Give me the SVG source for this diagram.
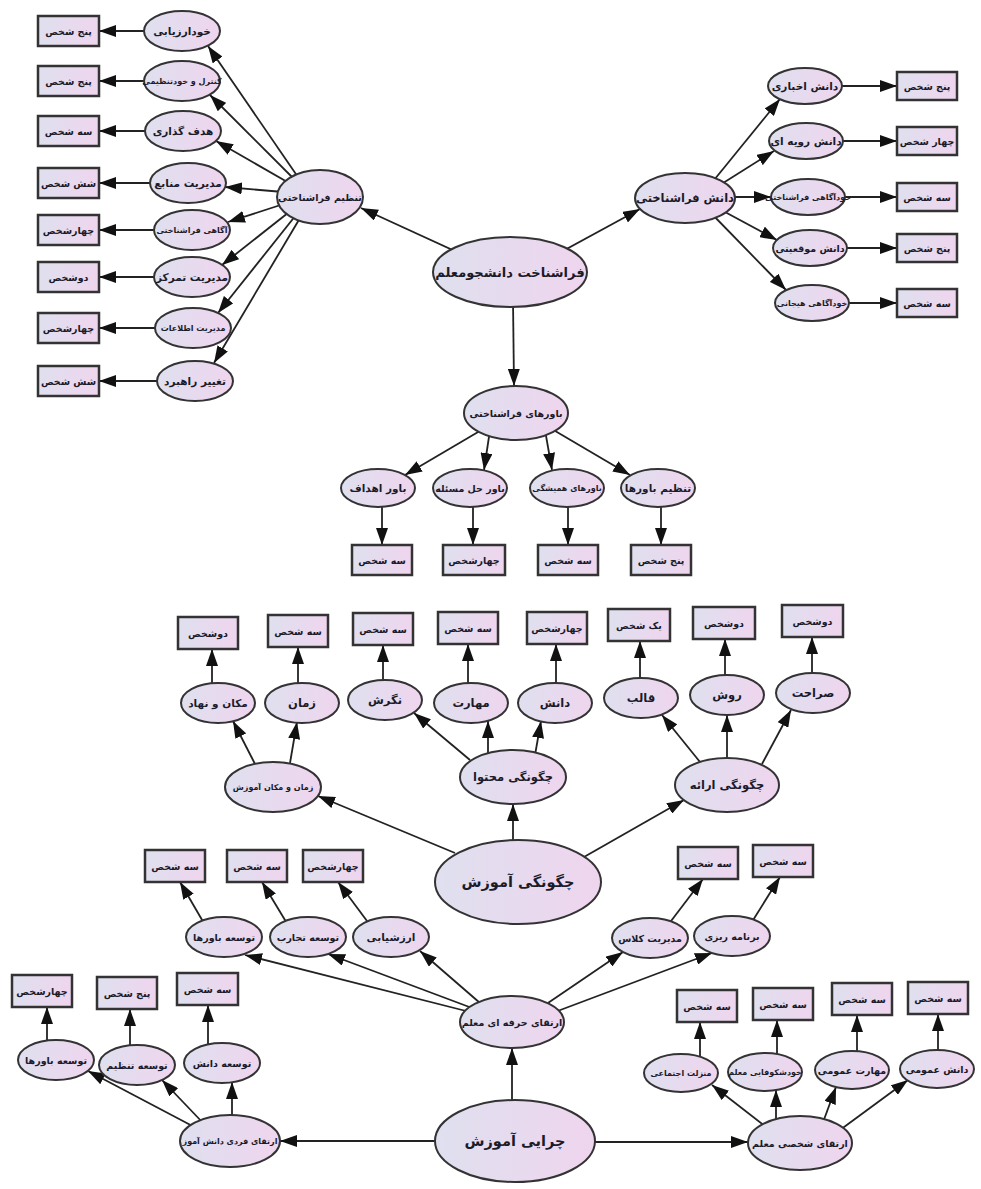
<svg xmlns="http://www.w3.org/2000/svg" width="981" height="1189" viewBox="0 0 981 1189">
<defs>
<linearGradient id="gf" x1="0" y1="0" x2="1" y2="0">
<stop offset="0" stop-color="#dfe0ef"/>
<stop offset="1" stop-color="#efd5ee"/>
</linearGradient>
<marker id="ah" markerUnits="userSpaceOnUse" markerWidth="17" markerHeight="12" refX="17" refY="6" orient="auto">
<path d="M0,0 L17,6 L0,12 z" fill="#111"/>
</marker>
</defs>
<style>
.e line{stroke:#222;stroke-width:1.8;marker-end:url(#ah)}
ellipse{fill:url(#gf);stroke:#333;stroke-width:2}
.bx{fill:url(#gf);stroke:#333;stroke-width:2.5}
text{font-family:"DejaVu Sans",sans-serif;font-weight:bold;fill:#1b1b2a;text-anchor:middle;dominant-baseline:central;font-size:10.5px}
.s{font-size:9.5px}
.xs{font-size:8px}
.m{font-size:11.5px}
.l{font-size:13px}
.xl{font-size:14.5px}
</style>
<g class="e" id="connectors">
<line x1="470" y1="258" x2="361" y2="208"/>
<line x1="550" y1="258" x2="640" y2="209"/>
<line x1="513" y1="300" x2="514" y2="386"/>
<line x1="300" y1="180" x2="208" y2="46"/>
<line x1="298" y1="183" x2="210" y2="95"/>
<line x1="296" y1="187" x2="216" y2="141"/>
<line x1="295" y1="193" x2="225" y2="187"/>
<line x1="296" y1="200" x2="228" y2="222"/>
<line x1="298" y1="205" x2="222" y2="265"/>
<line x1="300" y1="210" x2="218" y2="313"/>
<line x1="303" y1="213" x2="214" y2="363"/>
<line x1="144" y1="31" x2="99" y2="31"/>
<line x1="144" y1="81" x2="99" y2="81"/>
<line x1="145" y1="131" x2="99" y2="131"/>
<line x1="150" y1="183" x2="99" y2="183"/>
<line x1="154" y1="230" x2="99" y2="230"/>
<line x1="154" y1="277" x2="99" y2="277"/>
<line x1="155" y1="328" x2="99" y2="328"/>
<line x1="157" y1="381" x2="99" y2="381"/>
<line x1="710" y1="185" x2="780" y2="99"/>
<line x1="712" y1="190" x2="774" y2="151"/>
<line x1="720" y1="197" x2="771" y2="197"/>
<line x1="712" y1="205" x2="777" y2="240"/>
<line x1="708" y1="210" x2="786" y2="290"/>
<line x1="842" y1="86" x2="897" y2="86"/>
<line x1="843" y1="141" x2="897" y2="141"/>
<line x1="845" y1="197" x2="897" y2="197"/>
<line x1="847" y1="248" x2="897" y2="248"/>
<line x1="849" y1="303" x2="897" y2="303"/>
<line x1="490" y1="425" x2="405" y2="475"/>
<line x1="490" y1="430" x2="484" y2="470"/>
<line x1="545" y1="430" x2="552" y2="470"/>
<line x1="545" y1="425" x2="630" y2="475"/>
<line x1="382" y1="507" x2="382" y2="545"/>
<line x1="473" y1="507" x2="473" y2="545"/>
<line x1="568" y1="507" x2="568" y2="545"/>
<line x1="661" y1="507" x2="661" y2="545"/>
<line x1="455" y1="853" x2="318" y2="796"/>
<line x1="513" y1="842" x2="513" y2="804"/>
<line x1="584" y1="857" x2="684" y2="800"/>
<line x1="255" y1="764" x2="233" y2="721"/>
<line x1="290" y1="763" x2="297" y2="722"/>
<line x1="470" y1="760" x2="414" y2="713"/>
<line x1="488" y1="755" x2="488" y2="721"/>
<line x1="535" y1="755" x2="541" y2="721"/>
<line x1="700" y1="762" x2="662" y2="715"/>
<line x1="727" y1="760" x2="727" y2="715"/>
<line x1="762" y1="764" x2="791" y2="710"/>
<line x1="212" y1="684" x2="212" y2="649"/>
<line x1="298" y1="684" x2="298" y2="647"/>
<line x1="383" y1="681" x2="383" y2="645"/>
<line x1="468" y1="684" x2="468" y2="644"/>
<line x1="556" y1="684" x2="556" y2="644"/>
<line x1="640" y1="679" x2="640" y2="641"/>
<line x1="725" y1="676" x2="725" y2="639"/>
<line x1="812" y1="674" x2="812" y2="637"/>
<line x1="470" y1="1012" x2="245" y2="955"/>
<line x1="472" y1="1008" x2="328" y2="954"/>
<line x1="480" y1="1003" x2="420" y2="951"/>
<line x1="545" y1="1005" x2="623" y2="952"/>
<line x1="555" y1="1012" x2="712" y2="953"/>
<line x1="205" y1="925" x2="180" y2="882"/>
<line x1="288" y1="925" x2="262" y2="882"/>
<line x1="370" y1="925" x2="338" y2="882"/>
<line x1="668" y1="925" x2="703" y2="879"/>
<line x1="750" y1="925" x2="780" y2="877"/>
<line x1="512" y1="1102" x2="512" y2="1048"/>
<line x1="437" y1="1141" x2="280" y2="1141"/>
<line x1="593" y1="1142" x2="748" y2="1142"/>
<line x1="200" y1="1130" x2="88" y2="1071"/>
<line x1="205" y1="1125" x2="162" y2="1080"/>
<line x1="232" y1="1118" x2="232" y2="1082"/>
<line x1="47" y1="1042" x2="47" y2="1007"/>
<line x1="130" y1="1047" x2="130" y2="1009"/>
<line x1="208" y1="1045" x2="208" y2="1005"/>
<line x1="770" y1="1130" x2="712" y2="1085"/>
<line x1="776" y1="1125" x2="776" y2="1090"/>
<line x1="822" y1="1125" x2="836" y2="1087"/>
<line x1="840" y1="1130" x2="908" y2="1080"/>
<line x1="700" y1="1056" x2="700" y2="1022"/>
<line x1="777" y1="1055" x2="777" y2="1020"/>
<line x1="857" y1="1053" x2="857" y2="1015"/>
<line x1="938" y1="1052" x2="938" y2="1014"/>
</g>
<g id="n_center"><ellipse cx="510" cy="272" rx="77" ry="35"/><text x="510" y="272" class="l">فراشناخت دانشجومعلم</text></g>
<g id="n_tanzim"><ellipse cx="320" cy="197" rx="43" ry="27"/><text x="320" y="197" class="s">تنظیم فراشناختی</text></g>
<g id="n_tl1"><ellipse cx="182" cy="31" rx="38" ry="20"/><text x="182" y="31">خودارزیابی</text></g>
<g id="n_tl2"><ellipse cx="182" cy="81" rx="38" ry="20"/><text x="182" y="81" class="xs">کنترل و خودتنظیمی</text></g>
<g id="n_tl3"><ellipse cx="183" cy="131" rx="38" ry="20"/><text x="183" y="131">هدف گذاری</text></g>
<g id="n_tl4"><ellipse cx="188" cy="183" rx="38" ry="20"/><text x="188" y="183">مدیریت منابع</text></g>
<g id="n_tl5"><ellipse cx="192" cy="230" rx="38" ry="20"/><text x="192" y="230" class="xs">آگاهی فراشناختی</text></g>
<g id="n_tl6"><ellipse cx="192" cy="277" rx="38" ry="20"/><text x="192" y="277">مدیریت تمرکز</text></g>
<g id="n_tl7"><ellipse cx="193" cy="328" rx="38" ry="20"/><text x="193" y="328" class="xs">مدیریت اطلاعات</text></g>
<g id="n_tl8"><ellipse cx="195" cy="381" rx="38" ry="20"/><text x="195" y="381">تغییر راهبرد</text></g>
<g id="b_tl1"><rect class="bx" x="38" y="16" width="61" height="30"/><text x="68.5" y="31" class="s">پنج شخص</text></g>
<g id="b_tl2"><rect class="bx" x="38" y="66" width="61" height="30"/><text x="68.5" y="81" class="s">پنج شخص</text></g>
<g id="b_tl3"><rect class="bx" x="38" y="116" width="61" height="30"/><text x="68.5" y="131" class="s">سه شخص</text></g>
<g id="b_tl4"><rect class="bx" x="38" y="168" width="61" height="30"/><text x="68.5" y="183" class="s">شش شخص</text></g>
<g id="b_tl5"><rect class="bx" x="38" y="215" width="61" height="30"/><text x="68.5" y="230" class="s">چهارشخص</text></g>
<g id="b_tl6"><rect class="bx" x="38" y="262" width="61" height="30"/><text x="68.5" y="277" class="s">دوشخص</text></g>
<g id="b_tl7"><rect class="bx" x="38" y="313" width="61" height="30"/><text x="68.5" y="328" class="s">چهارشخص</text></g>
<g id="b_tl8"><rect class="bx" x="38" y="366" width="61" height="30"/><text x="68.5" y="381" class="s">شش شخص</text></g>
<g id="n_danesh"><ellipse cx="685" cy="198" rx="50" ry="25"/><text x="685" y="198" class="m">دانش فراشناختی</text></g>
<g id="n_tr1"><ellipse cx="805" cy="86" rx="37" ry="18"/><text x="805" y="86">دانش اخباری</text></g>
<g id="n_tr2"><ellipse cx="806" cy="141" rx="37" ry="18"/><text x="806" y="141">دانش رویه ای</text></g>
<g id="n_tr3"><ellipse cx="808" cy="197" rx="37" ry="18"/><text x="808" y="197" class="xs">خودآگاهی فراشناختی</text></g>
<g id="n_tr4"><ellipse cx="810" cy="248" rx="37" ry="18"/><text x="810" y="248" class="s">دانش موقعیتی</text></g>
<g id="n_tr5"><ellipse cx="812" cy="303" rx="37" ry="18"/><text x="812" y="303" class="xs">خودآگاهی هیجانی</text></g>
<g id="b_tr1"><rect class="bx" x="897" y="72" width="60" height="28"/><text x="927" y="86" class="s">پنج شخص</text></g>
<g id="b_tr2"><rect class="bx" x="897" y="127" width="60" height="28"/><text x="927" y="141" class="s">چهار شخص</text></g>
<g id="b_tr3"><rect class="bx" x="897" y="183" width="60" height="28"/><text x="927" y="197" class="s">سه شخص</text></g>
<g id="b_tr4"><rect class="bx" x="897" y="234" width="60" height="28"/><text x="927" y="248" class="s">پنج شخص</text></g>
<g id="b_tr5"><rect class="bx" x="897" y="289" width="60" height="28"/><text x="927" y="303" class="s">سه شخص</text></g>
<g id="n_bavar"><ellipse cx="516" cy="413" rx="52" ry="27"/><text x="516" y="413" class="s">باورهای فراشناختی</text></g>
<g id="n_b1"><ellipse cx="378" cy="488" rx="37" ry="19"/><text x="378" y="488">باور اهداف</text></g>
<g id="n_b2"><ellipse cx="470" cy="488" rx="37" ry="19"/><text x="470" y="488" class="s">باور حل مسئله</text></g>
<g id="n_b3"><ellipse cx="567" cy="488" rx="37" ry="19"/><text x="567" y="488" class="xs">باورهای همیشگی</text></g>
<g id="n_b4"><ellipse cx="658" cy="488" rx="37" ry="19"/><text x="658" y="488">تنظیم باورها</text></g>
<g id="b_b1"><rect class="bx" x="352" y="545" width="60" height="30"/><text x="382" y="560" class="s">سه شخص</text></g>
<g id="b_b2"><rect class="bx" x="443" y="545" width="62" height="30"/><text x="474" y="560" class="s">چهارشخص</text></g>
<g id="b_b3"><rect class="bx" x="538" y="545" width="60" height="30"/><text x="568" y="560" class="s">سه شخص</text></g>
<g id="b_b4"><rect class="bx" x="631" y="545" width="60" height="30"/><text x="661" y="560" class="s">پنج شخص</text></g>
<g id="n_chegoonegi"><ellipse cx="518" cy="882" rx="83" ry="42"/><text x="518" y="882" class="xl">چگونگی آموزش</text></g>
<g id="n_zaman_makan"><ellipse cx="273" cy="787" rx="48" ry="25"/><text x="273" y="787" class="xs">زمان و مکان آموزش</text></g>
<g id="n_mohtava"><ellipse cx="513" cy="777" rx="53" ry="27"/><text x="513" y="777" class="m">چگونگی محتوا</text></g>
<g id="n_eraee"><ellipse cx="727" cy="785" rx="52" ry="27"/><text x="727" y="785" class="m">چگونگی ارائه</text></g>
<g id="n_m1"><ellipse cx="218" cy="703" rx="37" ry="20"/><text x="218" y="703">مکان و نهاد</text></g>
<g id="n_m2"><ellipse cx="302" cy="703" rx="37" ry="20"/><text x="302" y="703" class="m">زمان</text></g>
<g id="n_m3"><ellipse cx="385" cy="700" rx="37" ry="20"/><text x="385" y="700" class="m">نگرش</text></g>
<g id="n_m4"><ellipse cx="471" cy="703" rx="37" ry="20"/><text x="471" y="703" class="m">مهارت</text></g>
<g id="n_m5"><ellipse cx="555" cy="703" rx="37" ry="20"/><text x="555" y="703" class="m">دانش</text></g>
<g id="n_m6"><ellipse cx="641" cy="698" rx="37" ry="20"/><text x="641" y="698" class="m">قالب</text></g>
<g id="n_m7"><ellipse cx="727" cy="695" rx="37" ry="20"/><text x="727" y="695" class="m">روش</text></g>
<g id="n_m8"><ellipse cx="813" cy="693" rx="37" ry="20"/><text x="813" y="693" class="m">صراحت</text></g>
<g id="b_m1"><rect class="bx" x="178" y="617" width="60" height="32"/><text x="208" y="633" class="s">دوشخص</text></g>
<g id="b_m2"><rect class="bx" x="268" y="615" width="60" height="32"/><text x="298" y="631" class="s">سه شخص</text></g>
<g id="b_m3"><rect class="bx" x="353" y="613" width="60" height="32"/><text x="383" y="629" class="s">سه شخص</text></g>
<g id="b_m4"><rect class="bx" x="438" y="612" width="60" height="32"/><text x="468" y="628" class="s">سه شخص</text></g>
<g id="b_m5"><rect class="bx" x="527" y="612" width="60" height="32"/><text x="557" y="628" class="s">چهارشخص</text></g>
<g id="b_m6"><rect class="bx" x="608" y="609" width="62" height="32"/><text x="639" y="625" class="s">یک شخص</text></g>
<g id="b_m7"><rect class="bx" x="693" y="607" width="62" height="32"/><text x="724" y="623" class="s">دوشخص</text></g>
<g id="b_m8"><rect class="bx" x="782" y="605" width="61" height="32"/><text x="812.5" y="621" class="s">دوشخص</text></g>
<g id="n_chera"><ellipse cx="515" cy="1141" rx="80" ry="41"/><text x="515" y="1141" class="xl">چرایی آموزش</text></g>
<g id="n_herfei"><ellipse cx="512" cy="1022" rx="52" ry="26"/><text x="512" y="1022" class="s">ارتقای حرفه ای معلم</text></g>
<g id="n_fardi"><ellipse cx="230" cy="1141" rx="50" ry="26"/><text x="230" y="1141" class="xs">ارتقای فردی دانش آموز</text></g>
<g id="n_shakhsi"><ellipse cx="800" cy="1143" rx="52" ry="27"/><text x="800" y="1143" class="s">ارتقای شخصی معلم</text></g>
<g id="n_h1"><ellipse cx="224" cy="937" rx="38" ry="20"/><text x="224" y="937" class="s">توسعه باورها</text></g>
<g id="n_h2"><ellipse cx="308" cy="937" rx="38" ry="20"/><text x="308" y="937" class="s">توسعه تجارب</text></g>
<g id="n_h3"><ellipse cx="391" cy="937" rx="38" ry="20"/><text x="391" y="937">ارزشیابی</text></g>
<g id="n_h4"><ellipse cx="650" cy="938" rx="38" ry="20"/><text x="650" y="938" class="s">مدیریت کلاس</text></g>
<g id="n_h5"><ellipse cx="732" cy="936" rx="38" ry="20"/><text x="732" y="936" class="s">برنامه ریزی</text></g>
<g id="b_h1"><rect class="bx" x="145" y="850" width="60" height="32"/><text x="175" y="866" class="s">سه شخص</text></g>
<g id="b_h2"><rect class="bx" x="227" y="850" width="60" height="32"/><text x="257" y="866" class="s">سه شخص</text></g>
<g id="b_h3"><rect class="bx" x="303" y="850" width="60" height="32"/><text x="333" y="866" class="s">چهارشخص</text></g>
<g id="b_h4"><rect class="bx" x="678" y="847" width="60" height="32"/><text x="708" y="863" class="s">سه شخص</text></g>
<g id="b_h5"><rect class="bx" x="753" y="845" width="60" height="32"/><text x="783" y="861" class="s">سه شخص</text></g>
<g id="n_f1"><ellipse cx="56" cy="1060" rx="38" ry="20"/><text x="56" y="1060" class="s">توسعه باورها</text></g>
<g id="n_f2"><ellipse cx="137" cy="1065" rx="38" ry="20"/><text x="137" y="1065" class="s">توسعه تنظیم</text></g>
<g id="n_f3"><ellipse cx="222" cy="1063" rx="38" ry="20"/><text x="222" y="1063" class="s">توسعه دانش</text></g>
<g id="b_f1"><rect class="bx" x="12" y="975" width="60" height="32"/><text x="42" y="991" class="s">چهارشخص</text></g>
<g id="b_f2"><rect class="bx" x="97" y="977" width="60" height="32"/><text x="127" y="993" class="s">پنج شخص</text></g>
<g id="b_f3"><rect class="bx" x="177" y="973" width="61" height="32"/><text x="207.5" y="989" class="s">سه شخص</text></g>
<g id="n_s1"><ellipse cx="681" cy="1073" rx="37" ry="19"/><text x="681" y="1073" class="xs">منزلت اجتماعی</text></g>
<g id="n_s2"><ellipse cx="765" cy="1072" rx="37" ry="19"/><text x="765" y="1072" class="xs">خودشکوفایی معلم</text></g>
<g id="n_s3"><ellipse cx="852" cy="1070" rx="37" ry="19"/><text x="852" y="1070" class="s">مهارت عمومی</text></g>
<g id="n_s4"><ellipse cx="937" cy="1069" rx="37" ry="19"/><text x="937" y="1069" class="s">دانش عمومی</text></g>
<g id="b_s1"><rect class="bx" x="677" y="990" width="60" height="32"/><text x="707" y="1006" class="s">سه شخص</text></g>
<g id="b_s2"><rect class="bx" x="753" y="988" width="60" height="32"/><text x="783" y="1004" class="s">سه شخص</text></g>
<g id="b_s3"><rect class="bx" x="832" y="983" width="60" height="32"/><text x="862" y="999" class="s">سه شخص</text></g>
<g id="b_s4"><rect class="bx" x="908" y="982" width="60" height="32"/><text x="938" y="998" class="s">سه شخص</text></g>
</svg>
